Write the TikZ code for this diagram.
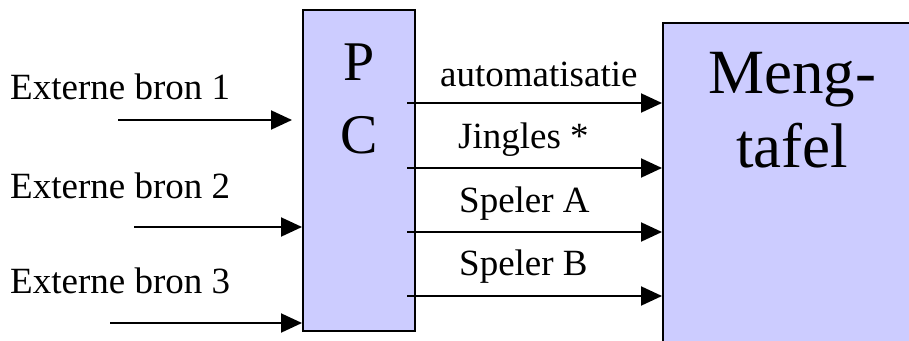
\documentclass[tikz,border=0pt]{standalone}
\usepackage{fontspec}
\setmainfont{LiberationSerif}[Extension=.ttf, UprightFont=*-Regular, BoldFont=*-Bold]
\usetikzlibrary{arrows.meta}
\definecolor{boxfill}{HTML}{CCCCFF}
\tikzset{
  box/.style={draw=black, line width=2pt, fill=boxfill, inner sep=0pt},
  lbl/.style={inner sep=0pt, anchor=base west, font=\fontsize{37}{40}\selectfont},
  pclbl/.style={inner sep=0pt, anchor=base, font=\fontsize{56}{60}\selectfont},
  mtlbl/.style={inner sep=0pt, anchor=base, font=\fontsize{63}{66}\selectfont},
  arr/.style={line width=2pt, -{Triangle[length=21pt,width=19pt]}}
}
\begin{document}
\begin{tikzpicture}[x=1pt,y=-1pt]
\useasboundingbox (0,0) rectangle (909,340);
\clip (0,0) rectangle (909,340);
% boxes
\node[box, minimum width=112pt, minimum height=321pt] (pc) at (359,170.5) {};
\node[box, minimum width=258pt, minimum height=329pt] (mt) at (792,187.5) {};
\node[pclbl] (pcP) at (359,80) {P};
\node[pclbl] (pcC) at (359,153) {C};
\node[mtlbl] (mt1) at (792,93) {Meng-};
\node[mtlbl] (mt2) at (792,167) {tafel};
% input labels
\node[lbl] (e1) at (10,99) {Externe bron 1};
\node[lbl] (e2) at (10,198) {Externe bron 2};
\node[lbl] (e3) at (10,293) {Externe bron 3};
% input arrows
\coordinate (i1) at (118,120);
\coordinate (i2) at (134,227);
\coordinate (i3) at (110,323);
\draw[arr, shorten >=10pt] (i1) -- (i1 -| pc.west);
\draw[arr] (i2) -- (i2 -| pc.west);
\draw[arr] (i3) -- (i3 -| pc.west);
% output labels
\node[lbl] (o1l) at (440,86) {automatisatie};
\node[lbl] (o2l) at (458,148) {Jingles *};
\node[lbl] (o3l) at (459,212) {Speler A};
\node[lbl] (o4l) at (459,275) {Speler B};
% output arrows
\coordinate (o1) at (407,103);
\coordinate (o2) at (407,168);
\coordinate (o3) at (407,232);
\coordinate (o4) at (407,296);
\draw[arr] (o1) -- (o1 -| mt.west);
\draw[arr] (o2) -- (o2 -| mt.west);
\draw[arr] (o3) -- (o3 -| mt.west);
\draw[arr] (o4) -- (o4 -| mt.west);
\end{tikzpicture}
\end{document}
